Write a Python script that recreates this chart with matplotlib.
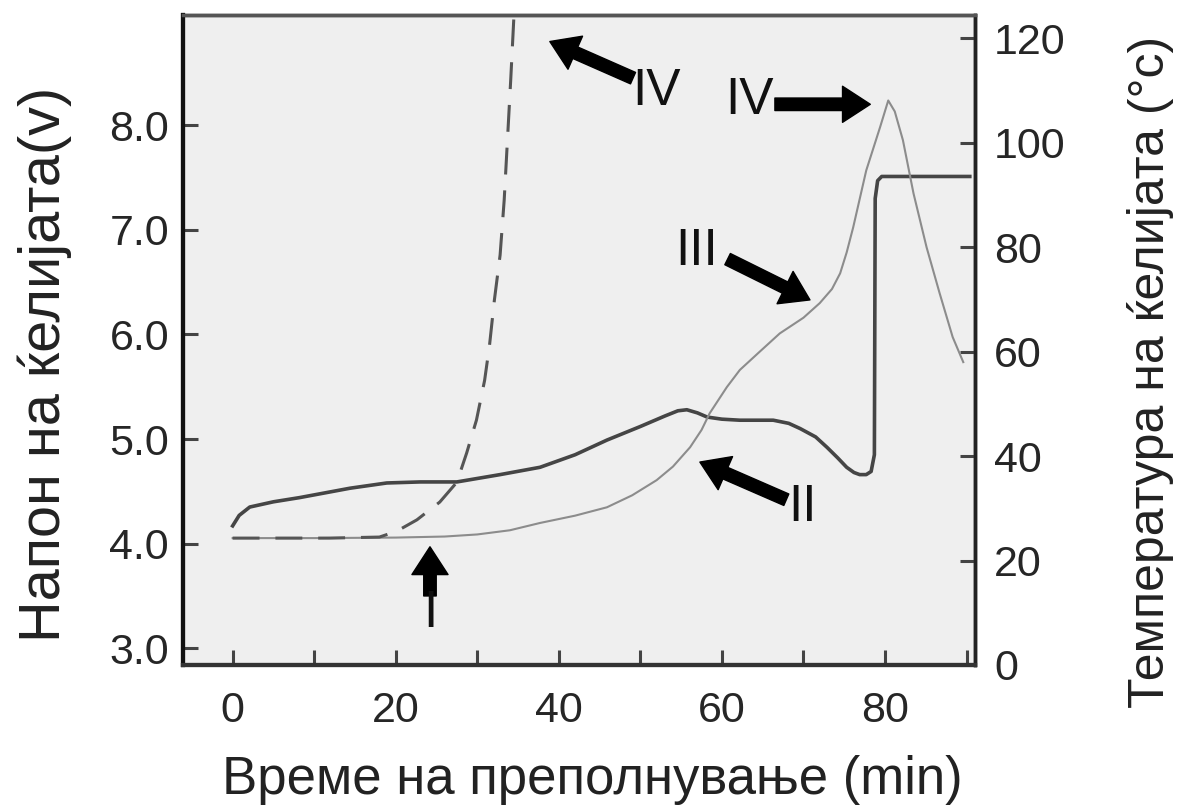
import matplotlib
matplotlib.use("Agg")
import matplotlib.pyplot as plt
from matplotlib.ticker import MultipleLocator, FormatStrFormatter

plt.rcParams['font.family'] = ['Liberation Sans', 'DejaVu Sans']

# cell voltage (left axis, V)
t_volt = [0, 0.8, 2.1, 5, 8.2, 14.4, 18.9, 23, 27.5, 32.8, 37.7, 42, 45.9, 50, 53, 54.6, 55.7,
          57, 58.2, 60, 62.2, 66.3, 68.2, 69.6, 71.5, 72.9, 74.2, 75.3, 76.2, 76.9, 77.7, 78.3,
          78.7, 78.8, 79.1, 79.6, 90.4]
volt = [4.17, 4.27, 4.35, 4.40, 4.44, 4.53, 4.58, 4.59, 4.59, 4.66, 4.73, 4.85, 4.99, 5.12, 5.22,
        5.27, 5.28, 5.25, 5.21, 5.19, 5.18, 5.18, 5.15, 5.10, 5.02, 4.92, 4.82, 4.73, 4.68, 4.66,
        4.66, 4.69, 4.85, 7.30, 7.47, 7.51, 7.51]

# cell temperature (right axis, deg C)
t_temp = [0, 10, 20, 26, 30, 34, 37.7, 42, 45.9, 49, 52, 54, 56.1, 57.5, 58.5, 60.6, 62.2,
          64.5, 67.1, 70, 72, 73.5, 74.5, 75.3, 76.1, 77.7, 79.4, 80.4, 81.2, 82.2, 83.5,
          85.1, 86.7, 88.3, 89.6]
temp = [24.3, 24.3, 24.4, 24.6, 25.0, 25.8, 27.2, 28.6, 30.2, 32.5, 35.4, 38.0, 41.7, 45.0, 48.2,
        53.2, 56.5, 59.8, 63.5, 66.5, 69.3, 72.0, 75.0, 79.0, 83.8, 94.7, 103.0, 108.1, 106.0,
        100.5, 90.3, 80.0, 71.2, 62.8, 58.0]

# dashed curve (runaway case, right axis)
t_dash = [0, 11.9, 18.0, 20.1, 22.6, 25.4, 27.5, 28.7, 29.9, 30.9, 31.5, 32.1, 32.8, 33.3,
          33.7, 34.1, 34.5, 34.8]
temp_dash = [24.3, 24.3, 24.5, 25.6, 27.8, 31.2, 35.0, 40.6, 46.9, 54.5, 61.2, 69.9, 78.5,
             89.0, 100.5, 112.0, 124.4, 130.0]

# arrow annotations: label, label pos, arrow tail, arrow head (time, volt)
labels = ["IV", "IV", "III", "II", "I"]
label_pos = [(52.0, 8.32), (63.4, 8.24), (56.9, 6.79), (69.9, 4.35), (24.2, 3.33)]
arrow_tail = [(49.1, 8.45), (66.5, 8.20), (60.7, 6.72), (67.9, 4.42), (24.2, 3.50)]
arrow_head = [(38.9, 8.80), (78.2, 8.20), (70.8, 6.33), (57.3, 4.78), (24.2, 3.97)]

fig = plt.figure(figsize=(11.8, 8.09), dpi=100)
ax = fig.add_axes([0.155, 0.178, 0.671, 0.803])
ax.set_facecolor('#efefef')
ax2 = ax.twinx()

ax.plot(t_volt, volt, color='#454545', lw=2.6, zorder=3)
ax2.plot(t_temp, temp, color='#8c8c8c', lw=1.5, zorder=2)
ax2.plot(t_dash, temp_dash, color='#555555', lw=2.2, dashes=(8.8, 5.2), zorder=2)

ax.set_xlim(-6.1, 91.0)
ax.set_ylim(2.84, 9.05)
ax2.set_ylim(0, 124.4)

ax.xaxis.set_major_locator(MultipleLocator(20))
ax.xaxis.set_minor_locator(MultipleLocator(10))
ax.set_xticks(range(0, 81, 20))
ax.set_yticks([3, 4, 5, 6, 7, 8])
ax.yaxis.set_major_formatter(FormatStrFormatter('%.1f'))
ax2.set_yticks(range(0, 121, 20))

tick_kw = dict(direction='in', length=11, width=2.2, color='#444444',
               labelsize=31, labelcolor='#262626')
ax.tick_params(axis='x', which='both', pad=19, **tick_kw)
ax.tick_params(axis='y', which='both', pad=10, **tick_kw)
ax2.tick_params(axis='y', which='both', pad=14, **tick_kw)
ax.tick_params(axis='x', which='minor', labelbottom=False)

for a in (ax, ax2):
    a.spines['left'].set_linewidth(3)
    a.spines['left'].set_color('#111111')
    a.spines['bottom'].set_linewidth(3)
    a.spines['bottom'].set_color('#333333')
    a.spines['top'].set_linewidth(2.5)
    a.spines['top'].set_color('#555555')
    a.spines['right'].set_linewidth(2.5)
    a.spines['right'].set_color('#222222')

for lab, pos, tail, head in zip(labels, label_pos, arrow_tail, arrow_head):
    ax.annotate('', xy=head, xytext=tail,
                arrowprops=dict(facecolor='black', edgecolor='black', width=9,
                                headwidth=26, headlength=20, shrink=0))
    ax.text(pos[0], pos[1], lab, ha='center', va='center', fontsize=37,
            family=['Liberation Sans Narrow', 'Liberation Sans'], color='#111111')

fig.text(0.502, 0.036, 'Време на преполнување (min)', ha='center', va='center',
         fontsize=38, color='#222222')
fig.text(0.038, 0.55, 'Напон на ќелијата(v)', ha='center', va='center',
         rotation=90, fontsize=41.5, color='#222222')
fig.text(0.975, 0.54, 'Температура на ќелијата (°c)', ha='center', va='center',
         rotation=90, fontsize=36, color='#222222')

fig.savefig('out.png', dpi=100, facecolor='white')
